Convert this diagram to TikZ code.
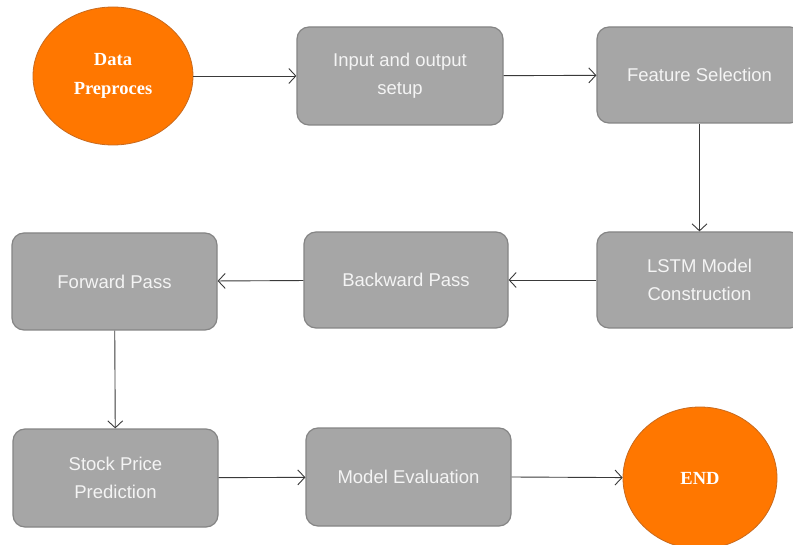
\documentclass[tikz,border=0pt]{standalone}
\usepackage{fontspec}
\setmainfont{Liberation Sans}
\newfontfamily\serifbold{Liberation Serif}
\usetikzlibrary{shapes.geometric,arrows.meta}
\definecolor{boxfill}{HTML}{A6A6A6}
\definecolor{boxline}{HTML}{858585}
\definecolor{orfill}{HTML}{FF7700}
\definecolor{orline}{HTML}{C86A1E}
\definecolor{txtc}{HTML}{F4F4F4}
\definecolor{arrc}{HTML}{3A3A3A}
\begin{document}
\begin{tikzpicture}[x=1pt,y=-1pt,
  procbox/.style={draw=boxline,fill=boxfill,line width=1.2pt,rounded corners=12pt,
    minimum width=205pt,minimum height=97pt,inner sep=0pt,align=center,text=txtc,
    font=\fontsize{18.5}{28}\selectfont},
  termnode/.style={ellipse,draw=orline,fill=orfill,line width=0.8pt,inner sep=0pt,
    align=center,text=white,font=\serifbold\bfseries\fontsize{18.5}{29}\selectfont},
  flow/.style={draw=arrc,line width=0.9pt,-{Straight Barb[length=7pt,width=15pt,line width=0.9pt]}}]
\useasboundingbox (0,0) rectangle (793,545);
\fill[white] (0,0) rectangle (793,545);
\node[termnode,minimum width=160pt,minimum height=138pt] (data) at (113,76) {Data\\Preproces};
\node[procbox,minimum width=206pt,minimum height=98pt] (input) at (400,76) {Input and output\\setup};
\node[procbox,minimum height=96pt] (feat) at (699.5,75) {Feature Selection};
\node[procbox,minimum height=96pt] (lstm) at (699.5,280) {LSTM Model\\Construction};
\node[procbox,minimum width=204pt,minimum height=96pt] (back) at (406,280) {Backward Pass};
\node[procbox] (fwd) at (114.5,281.5) {Forward Pass};
\node[procbox,minimum height=98pt] (stock) at (115.5,478) {Stock Price\\Prediction};
\node[procbox,minimum height=98pt] (eval) at (408.5,477) {Model Evaluation};
\node[termnode,minimum width=154pt,minimum height=142pt] (end) at (700,478) {END};
\draw[flow] (data) -- (input);
\draw[flow] (input) -- (feat);
\draw[flow] (feat) -- (lstm);
\draw[flow] (lstm) -- (back);
\draw[flow] (back) -- (fwd);
\draw[flow] (fwd) -- (stock);
\draw[flow] (stock) -- (eval);
\draw[flow] (eval.east) -- (end);
\end{tikzpicture}
\end{document}
